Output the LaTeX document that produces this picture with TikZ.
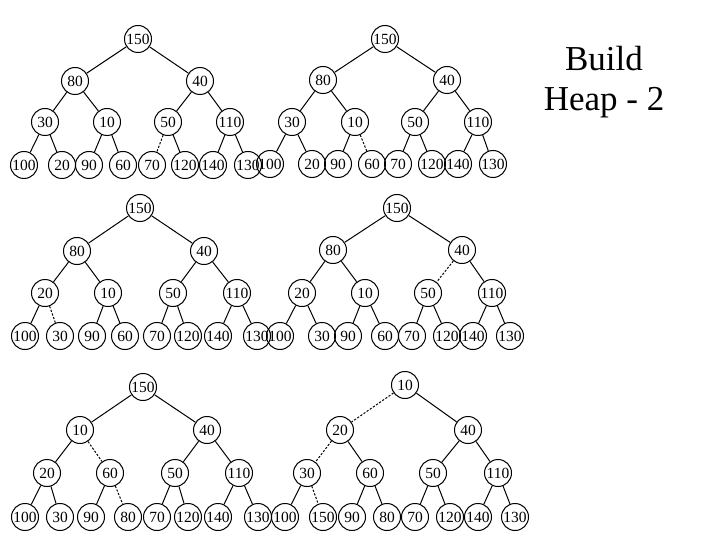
\documentclass[tikz,border=0pt]{standalone}
\usepackage{fontspec}
\setmainfont{Liberation Serif}
\tikzset{
  hn/.style={circle,draw,line width=1pt,minimum size=27pt,inner sep=0pt,font=\fontsize{15.5}{15.5}\selectfont},
  edge/.style={line width=1pt},
  dashedge/.style={line width=1pt,dash pattern=on 2.2pt off 1.6pt},
  title/.style={font=\fontsize{35}{40}\selectfont,anchor=base}
}
\newcommand\heaptree[3]{%
  \foreach \i/\x/\y/\t in {#2} {\node[hn] (#1\i) at (\x,\y) {\t};}
  \foreach \c in {2,...,15} {%
    \pgfmathtruncatemacro\p{\c/2}%
    \gdef\edgestyle{edge}%
    \foreach \d in {#3} {\ifnum\d=\c\relax\gdef\edgestyle{dashedge}\fi}%
    \draw[\edgestyle] (#1\p) -- (#1\c);
  }%
}
\begin{document}
\begin{tikzpicture}[x=1pt,y=-1pt]
\useasboundingbox[fill=white] (0,0) rectangle (720,540);
\heaptree{A}{1/138/39/150, 2/75/81/80, 3/200/81/40, 4/45/122/30, 5/107/122/10, 6/168/122/50, 7/230/122/110, 8/24/165/100, 9/62/165/20, 10/89/165/90, 11/123/165/60, 12/152/165/70, 13/185/165/120, 14/213/165/140, 15/248/165/130}{12}
\heaptree{B}{1/385/39/150, 2/323/80/80, 3/447/80/40, 4/292/122/30, 5/355/122/10, 6/415/122/50, 7/478/122/110, 8/270/164/100, 9/312/164/20, 10/338/164/90, 11/372/164/60, 12/398/164/70, 13/432/164/120, 14/458/164/140, 15/493/164/130}{11}
\heaptree{C}{1/140/208/150, 2/77/251/80, 3/204/251/40, 4/45/293/20, 5/108/293/10, 6/173/293/50, 7/237/293/110, 8/25/336/100, 9/60/336/30, 10/92/336/90, 11/125/336/60, 12/157/336/70, 13/188/336/120, 14/218/336/140, 15/257/336/130}{9}
\heaptree{D}{1/397/208/150, 2/333/250/80, 3/462/250/40, 4/302/293/20, 5/365/293/10, 6/428/293/50, 7/492/293/110, 8/280/336/100, 9/322/336/30, 10/348/336/90, 11/385/336/60, 12/412/336/70, 13/447/336/120, 14/473/336/140, 15/510/336/130}{6}
\heaptree{E}{1/143/387/150, 2/80/430/10, 3/207/430/40, 4/47/473/20, 5/110/473/60, 6/175/473/50, 7/239/473/110, 8/25/517/100, 9/60/517/30, 10/91/517/90, 11/128/517/80, 12/157/517/70, 13/188/517/120, 14/218/517/140, 15/258/517/130}{5,11}
\heaptree{F}{1/405/385/10, 2/340/430/20, 3/468/430/40, 4/307/473/30, 5/370/473/60, 6/433/473/50, 7/498/473/110, 8/285/517/100, 9/323/517/150, 10/352/517/90, 11/387/517/80, 12/415/517/70, 13/450/517/120, 14/478/517/140, 15/515/517/130}{2,4,9}
\node[title] (t1) at (604,71) {Build};
\node[title] (t2) at (604,111) {Heap - 2};
\end{tikzpicture}
\end{document}
